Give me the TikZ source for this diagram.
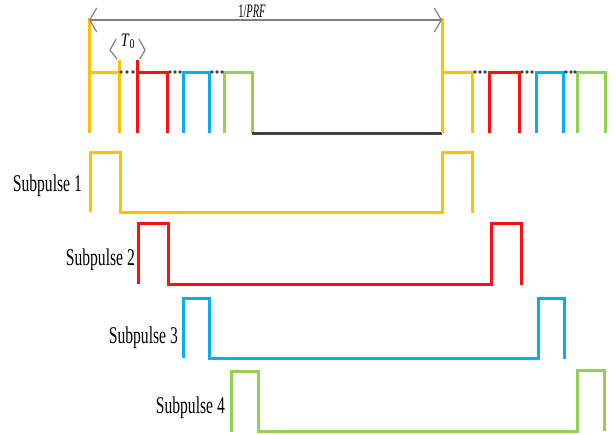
\documentclass[tikz,border=0pt]{standalone}
\usepackage{fontspec}
\setmainfont{Liberation Serif}
\usetikzlibrary{arrows.meta}
\definecolor{pgold}{HTML}{FFC000}
\definecolor{pred}{HTML}{FF1010}
\definecolor{pblue}{HTML}{00B0F0}
\definecolor{pgreen}{HTML}{92D050}
\definecolor{pdark}{HTML}{404040}
\definecolor{pgray}{HTML}{808080}
\tikzset{
  wave/.style={line width=3pt, line join=miter},
  gap/.style={fill=pdark},
  dim/.style={pgray, line width=1.2pt},
  lbl/.style={font=\fontsize{24}{28}\selectfont, inner sep=0pt, anchor=base east},
  small/.style={font=\fontsize{19}{22}\selectfont, inner sep=0pt}
}
\newcommand{\squeeze}[2]{\scalebox{#1}[1]{#2}}
\begin{document}
\begin{tikzpicture}[x=1pt,y=-1pt]
\useasboundingbox (0,0) rectangle (616,434);

% pulse train, first period
\draw[wave,pgold] (89,18) -- (89,133);
\draw[wave,pgold] (89,72) -- (119,72);
\draw[wave,pgold] (119,60) -- (119,133);
\draw[wave,pred] (137,60) -- (137,133);
\draw[wave,pred] (137,72) -- (167,72) -- (167,133);
\draw[wave,pblue] (183,133) -- (183,72) -- (209,72) -- (209,133);
\draw[wave,pgreen] (224,133) -- (224,72) -- (252,72) -- (252,133);
\draw[wave,pdark] (252,133) -- (442,133);

% pulse train, second period
\draw[wave,pgold] (442,18) -- (442,133);
\draw[wave,pgold] (442,72) -- (472,72) -- (472,133);
\draw[wave,pred] (489,133) -- (489,72) -- (519,72) -- (519,133);
\draw[wave,pblue] (536,133) -- (536,72) -- (563,72) -- (563,133);
\draw[wave,pgreen] (577,133) -- (577,72) -- (605,72) -- (605,133);

% dotted gaps between subpulses
\foreach \x in {121,127,133, 170,175,180, 212,217,222, 475,480,485, 522,527,532, 566,571,575}
  \fill[gap] (\x,72) circle (1.8pt);

% pulse repetition interval
\draw[dim, {Straight Barb[length=7pt,width=24pt]}-{Straight Barb[length=7pt,width=24pt]}] (89,20) -- (442,20);
\node[small, anchor=base] (prf) at (252,17) {\squeeze{0.55}{1/\textit{PRF}}};

% subpulse width marker
\draw[dim] (116,39) -- (110,50) -- (117,59);
\draw[dim] (139,39) -- (145,50) -- (140,59);
\node[small, anchor=base] (t0) at (128,46) {\squeeze{0.75}{\textit{T}\textsubscript{0}}};

% individual subpulses
\draw[wave,pgold] (90,212) -- (90,152) -- (120,152) -- (120,212) -- (442,212) -- (442,152) -- (472,152) -- (472,213);
\draw[wave,pred] (138,284) -- (138,223) -- (168,223) -- (168,284) -- (491,284) -- (491,223) -- (521,223) -- (521,285);
\draw[wave,pblue] (183,358) -- (183,298) -- (209,298) -- (209,358) -- (538,358) -- (538,298) -- (564,298) -- (564,359);
\draw[wave,pgreen] (231,432) -- (231,371) -- (258,371) -- (258,431) -- (577,431) -- (577,370) -- (604,370) -- (604,431);

\node[lbl] (s1) at (82,191) {\squeeze{0.65}{Subpulse 1}};
\node[lbl] (s2) at (135,265) {\squeeze{0.65}{Subpulse 2}};
\node[lbl] (s3) at (178,343) {\squeeze{0.65}{Subpulse 3}};
\node[lbl] (s4) at (225,413) {\squeeze{0.65}{Subpulse 4}};
\end{tikzpicture}
\end{document}
